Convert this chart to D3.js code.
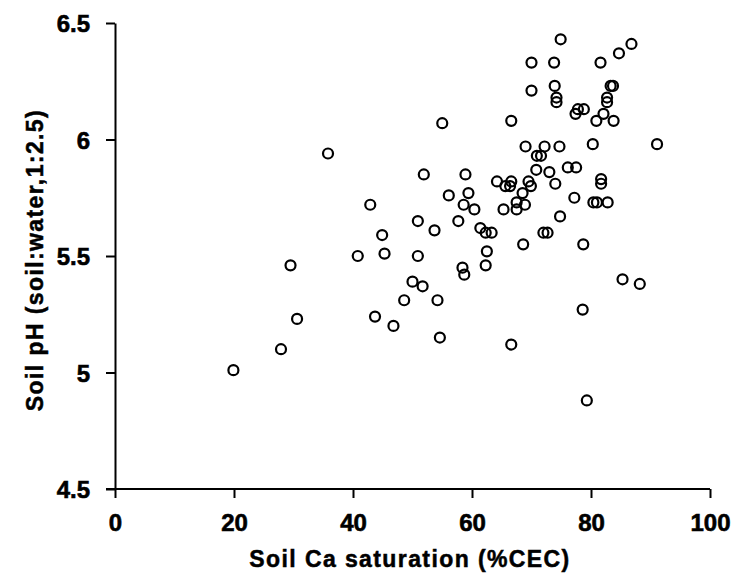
<!DOCTYPE html>
<html>
<head>
<meta charset="utf-8">
<script src="https://cdn.jsdelivr.net/npm/d3@7"></script>
<style>
    body { margin: 0; background: #fff; }
    .axis path, .axis line { stroke: #000; stroke-width: 2; }
    .axis text { font-family: "Liberation Sans", Arial, sans-serif; font-weight: bold; font-size: 24px; fill: #000; stroke: #000; stroke-width: 0.6px; }
    .axis-title { font-family: "Liberation Sans", Arial, sans-serif; font-weight: bold; font-size: 23px; letter-spacing: 1.4px; fill: #000; stroke: #000; stroke-width: 0.5px; }
    .point { fill: none; stroke: #000; stroke-width: 2.2; }
</style>
</head>
<body>
<svg id="chart"></svg>
<script>
// Soil Ca saturation (%CEC)
const caSaturation = [
    19.9, 27.9, 29.5, 30.6, 35.8, 40.8, 42.9, 43.7, 44.9, 45.3,
    46.8, 48.6, 50.0, 50.9, 50.9, 51.7, 51.9, 53.7, 54.2, 54.6,
    55.0, 56.1, 57.7, 58.4, 58.7, 58.6, 58.9, 59.4, 60.4, 61.4,
    62.3, 63.3, 62.3, 62.5, 64.2, 65.6, 66.4, 66.6, 65.3, 66.6,
    66.6, 67.5, 67.5, 68.5, 68.9, 68.6, 69.0, 69.5, 69.9, 70.0,
    70.0, 70.8, 70.9, 71.6, 72.0, 72.7, 72.2, 73.0, 73.8, 73.9,
    74.0, 74.2, 74.2, 74.7, 74.9, 74.8, 76.1, 77.5, 77.2, 77.8,
    78.8, 77.4, 78.6, 78.7, 79.3, 80.3, 80.4, 81.0, 80.9, 81.6,
    81.7, 81.7, 82.1, 82.7, 82.7, 82.8, 83.3, 83.7, 83.8, 84.7,
    85.3, 86.8, 88.2, 91.1
];
// Soil pH (soil:water, 1:2.5), same order
const soilPH = [
    5.01, 5.10, 5.46, 5.23, 5.94, 5.50, 5.72, 5.24, 5.59, 5.51,
    5.20, 5.31, 5.39, 5.65, 5.50, 5.37, 5.85, 5.61, 5.31, 5.15,
    6.07, 5.76, 5.65, 5.45, 5.42, 5.72, 5.85, 5.77, 5.70, 5.62,
    5.60, 5.60, 5.46, 5.52, 5.82, 5.80, 5.80, 5.82, 5.70, 6.08,
    5.12, 5.73, 5.70, 5.77, 5.72, 5.55, 5.97, 5.82, 5.80, 6.33,
    6.21, 5.87, 5.93, 5.93, 5.60, 5.60, 5.97, 5.86, 6.33, 6.23,
    5.81, 6.18, 6.16, 5.97, 6.43, 5.67, 5.88, 5.88, 5.75, 6.13,
    6.13, 6.11, 5.27, 5.55, 4.88, 5.98, 5.73, 5.73, 6.08, 6.33,
    5.83, 5.81, 6.11, 6.18, 6.16, 5.73, 6.23, 6.23, 6.08, 6.37,
    5.40, 6.41, 5.38, 5.98
];
const xTicks = [0, 20, 40, 60, 80, 100];
const yTicks = [4.5, 5, 5.5, 6, 6.5];

class Scatterplot {
    constructor(_config, _xData, _yData) {
        this.config = {
            parentElement: _config.parentElement,
            containerWidth: _config.containerWidth || 736,
            containerHeight: _config.containerHeight || 583,
            margin: {top: 23, right: 26, bottom: 94, left: 115}
        }
        // zip the two series into point objects
        this.data = _xData.map((x, i) => ({ca: x, ph: _yData[i]}));
        this.initVis();
    }

    initVis() {
        let vis = this;

        vis.width = vis.config.containerWidth - vis.config.margin.left - vis.config.margin.right;
        vis.height = vis.config.containerHeight - vis.config.margin.top - vis.config.margin.bottom;

        vis.svg = d3.select(vis.config.parentElement)
            .attr('width', vis.config.containerWidth)
            .attr('height', vis.config.containerHeight);

        vis.chart = vis.svg.append('g')
            .attr('transform', `translate(${vis.config.margin.left}, ${vis.config.margin.top})`);

        vis.xValue = d => d.ca;
        vis.yValue = d => d.ph;

        vis.xScale = d3.scaleLinear()
            .domain([0, 100])
            .range([0, vis.width]);
        vis.yScale = d3.scaleLinear()
            .domain([4.5, 6.5])
            .range([vis.height, 0]);

        vis.xAxis = d3.axisBottom(vis.xScale)
            .tickValues(xTicks)
            .tickSize(9)
            .tickSizeOuter(0)
            .tickPadding(16)
            .tickFormat(d3.format('d'));
        vis.yAxis = d3.axisLeft(vis.yScale)
            .tickValues(yTicks)
            .tickSize(9)
            .tickSizeOuter(0)
            .tickPadding(16)
            .tickFormat(d => d);

        vis.xAxisG = vis.chart.append('g')
            .attr('class', 'axis x-axis')
            .attr('transform', `translate(0,${vis.height})`)
            .call(vis.xAxis);
        vis.yAxisG = vis.chart.append('g')
            .attr('class', 'axis y-axis')
            .call(vis.yAxis);

        // x axis line also runs left to the 4.5 tick
        vis.xAxisG.select('.domain').attr('d', `M-9,0H${vis.width}`);
        vis.yAxisG.selectAll('text').attr('dy', '0.36em');

        vis.svg.append('text')
            .attr('class', 'axis-title')
            .attr('x', 410)
            .attr('y', 567)
            .attr('text-anchor', 'middle')
            .text('Soil Ca saturation (%CEC)');

        vis.svg.append('text')
            .attr('class', 'axis-title')
            .attr('transform', 'translate(43, 260) rotate(-90)')
            .attr('text-anchor', 'middle')
            .text('Soil pH (soil:water,1:2.5)');

        vis.renderVis();
    }

    renderVis() {
        let vis = this;

        vis.chart.selectAll('.point')
            .data(vis.data)
            .join('circle')
                .attr('class', 'point')
                .attr('r', 5)
                .attr('cx', d => vis.xScale(vis.xValue(d)))
                .attr('cy', d => vis.yScale(vis.yValue(d)));
    }
}

new Scatterplot({parentElement: '#chart'}, caSaturation, soilPH);
</script>
</body>
</html>
